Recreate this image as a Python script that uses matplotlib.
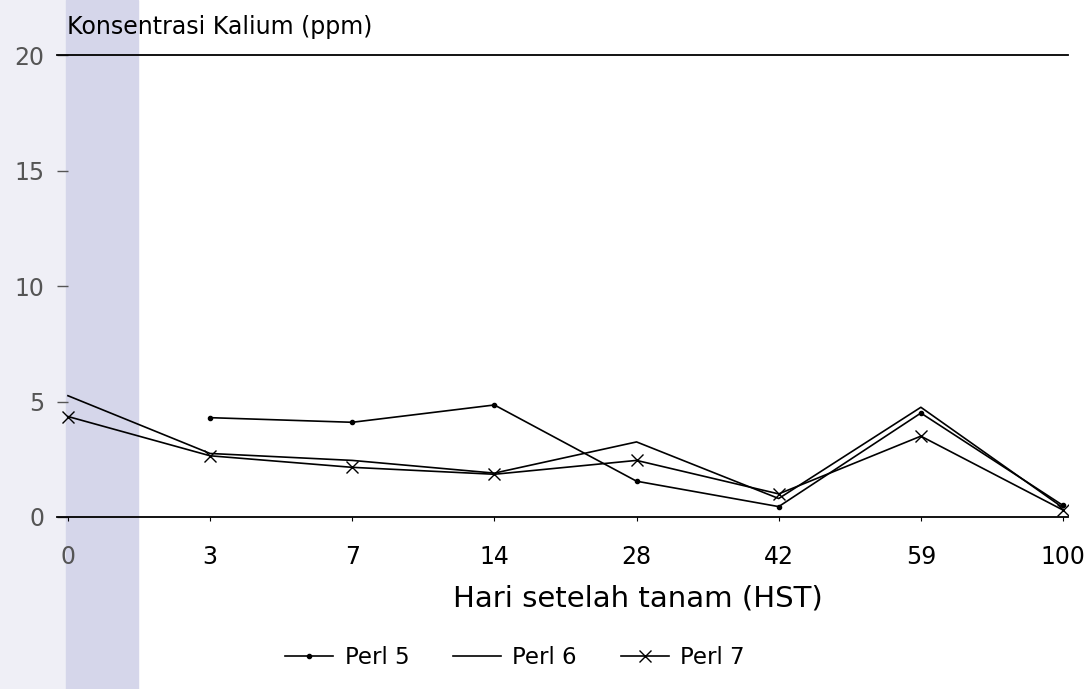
import matplotlib.pyplot as plt
import numpy as np
from matplotlib.patches import Rectangle

# data
hari = ['0', '3', '7', '14', '28', '42', '59', '100']
perl5 = [np.nan, 4.3, 4.1, 4.85, 1.55, 0.45, 4.5, 0.5]
perl6 = [5.25, 2.75, 2.45, 1.9, 3.25, 0.8, 4.75, 0.4]
perl7 = [4.35, 2.65, 2.15, 1.85, 2.45, 1.0, 3.5, 0.3]
y_ticks = [0, 5, 10, 15, 20]

plt.rcParams['font.family'] = ['DejaVu Sans']

fig = plt.figure(figsize=(10.89, 6.89), dpi=100)
ax = fig.add_axes([57 / 1089, 172 / 689, 1011 / 1089, 462 / 689])
ax.patch.set_alpha(0)

# watermark strip of the scanned page
fig.add_artist(Rectangle((0, 0), 66 / 1089, 1, transform=fig.transFigure,
                         color='#efeff6', zorder=-2))
fig.add_artist(Rectangle((66 / 1089, 0), 72 / 1089, 1, transform=fig.transFigure,
                         color='#d5d6ea', zorder=-2))

x = np.arange(len(hari))
ax.plot(x, perl5, color='black', lw=1.2, marker='o', ms=3, label='Perl 5')
ax.plot(x, perl6, color='black', lw=1.2, label='Perl 6')
ax.plot(x, perl7, color='black', lw=1.2, marker='x', ms=9, mew=1, label='Perl 7')

ax.set_xlim(-0.077, 7.035)
ax.set_ylim(0, 20)
ax.set_yticks(y_ticks)
ax.set_xticks(x)
ax.set_xticklabels(hari)

for s in ['left', 'right']:
    ax.spines[s].set_visible(False)
ax.spines['top'].set_linewidth(1.3)
ax.spines['bottom'].set_linewidth(1.3)

ax.tick_params(axis='y', direction='in', length=8, width=1, pad=9, labelsize=17,
               labelcolor='#555555', color='#555555')
ax.tick_params(axis='x', length=3, width=0.8, pad=17, labelsize=17)
ax.get_xticklabels()[0].set_color('#555555')

fig.text(67 / 1089, 1 - 34 / 689, 'Konsentrasi Kalium (ppm)', fontsize=17,
         ha='left', va='baseline')
fig.text(638 / 1089, 1 - 598 / 689, 'Hari setelah tanam (HST)', fontsize=21,
         ha='center', va='center')

fig.legend(loc='center', bbox_to_anchor=(515 / 1089, 1 - 658 / 689), ncol=3,
           frameon=False, fontsize=16.5, handlelength=2.1, columnspacing=1.9,
           handletextpad=0.5)

fig.savefig('out.png', dpi=100)
